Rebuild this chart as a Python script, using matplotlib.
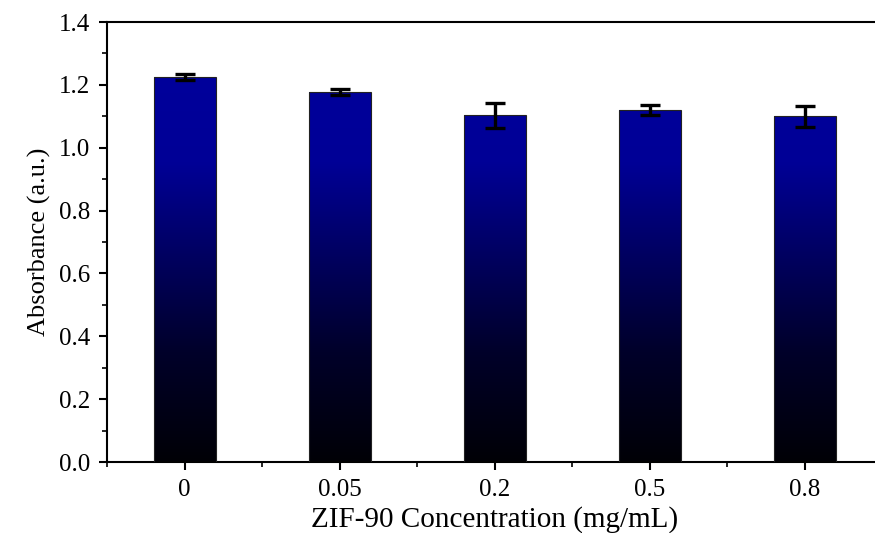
import numpy as np
import matplotlib.pyplot as plt
from matplotlib.colors import LinearSegmentedColormap
from matplotlib.ticker import MultipleLocator

plt.switch_backend("Agg")
plt.rcParams["font.family"] = ["Liberation Serif", "DejaVu Serif"]

categories = ["0", "0.05", "0.2", "0.5", "0.8"]
absorbance = [1.225, 1.178, 1.103, 1.120, 1.100]
errors = [0.010, 0.009, 0.040, 0.016, 0.033]

fig = plt.figure(figsize=(8.75, 5.33), dpi=100)
ax = fig.add_axes([0.1223, 0.1332, 0.8857, 0.8255])

x = np.arange(len(categories))
bars = ax.bar(x, absorbance, width=0.4, color="none", edgecolor="#222222",
              linewidth=0.8, zorder=3)

# blue -> black gradient (0 .. 1.4 in data units), clipped to each bar
cmap = LinearSegmentedColormap.from_list(
    "bk", [(0.0, "#000006"), (0.25, "#00002a"), (0.5, "#000068"),
           (0.68, "#000096"), (1.0, "#00009e")])
grad = np.linspace(0, 1, 256).reshape(-1, 1)
for b in bars:
    x0, w = b.get_x(), b.get_width()
    im = ax.imshow(grad, extent=[x0, x0 + w, 0, 1.4], origin="lower",
                   cmap=cmap, aspect="auto", zorder=2)
    im.set_clip_path(b)

ax.errorbar(x, absorbance, yerr=errors, fmt="none", ecolor="black",
            elinewidth=2.4, capsize=7, capthick=2.4, zorder=4)

ax.set_xlim(-0.5, 4.5)
ax.set_ylim(0, 1.4)
ax.set_xticks(x)
ax.set_xticklabels(categories)
ax.xaxis.set_minor_locator(MultipleLocator(0.5))
ax.yaxis.set_major_locator(MultipleLocator(0.2))
ax.yaxis.set_minor_locator(MultipleLocator(0.1))
ax.yaxis.set_major_formatter(plt.FuncFormatter(lambda v, p: f"{v:.1f}"))

ax.tick_params(which="major", direction="out", length=6, width=1.5, labelsize=18, pad=6)
ax.tick_params(which="minor", direction="out", length=3.5, width=1.2)
for s in ["left", "bottom", "top", "right"]:
    ax.spines[s].set_linewidth(1.5)

ax.set_xlabel("ZIF-90 Concentration (mg/mL)", fontsize=21, labelpad=4)
ax.set_ylabel("Absorbance (a.u.)", fontsize=19, labelpad=6)

fig.savefig("out.png", dpi=100)
